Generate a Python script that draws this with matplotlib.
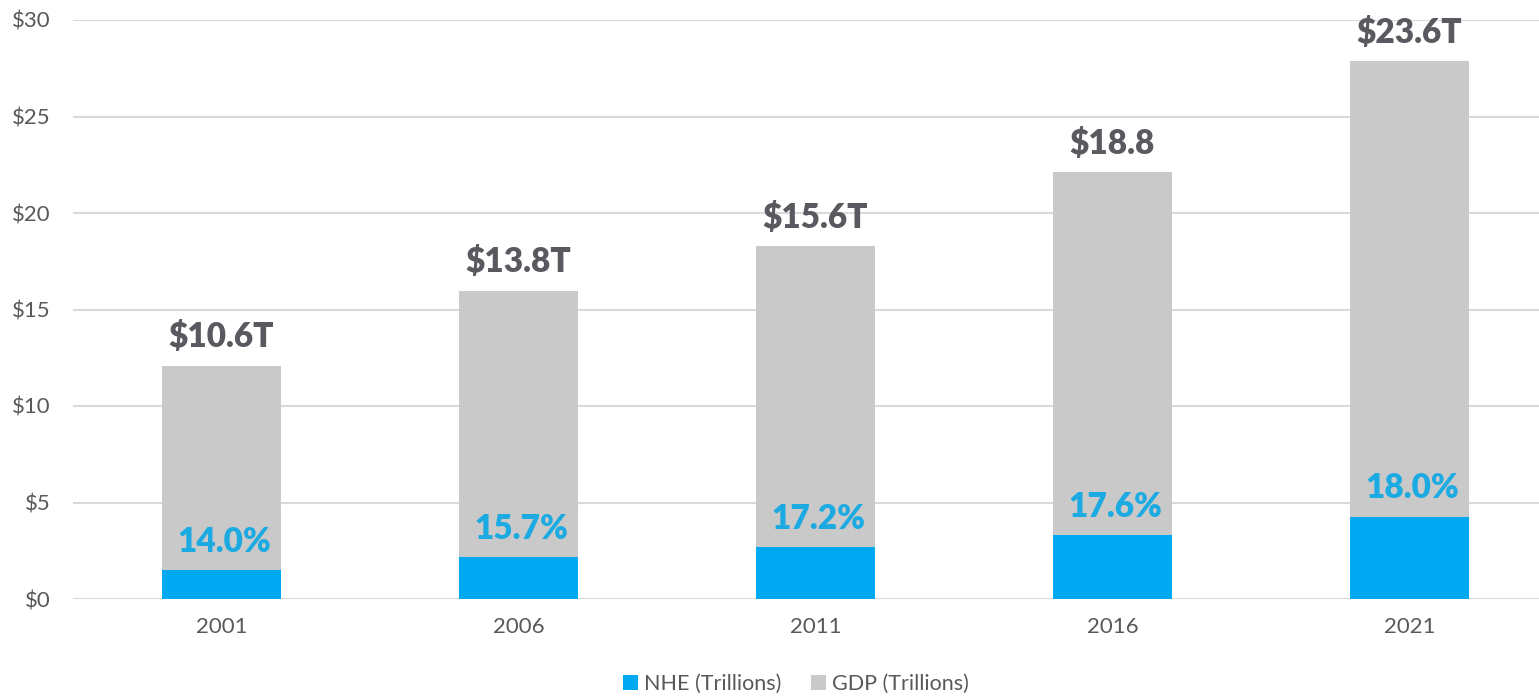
import matplotlib.pyplot as plt
import numpy as np

# data
years = ["2001", "2006", "2011", "2016", "2021"]
gdp = [10.6, 13.8, 15.6, 18.8, 23.6]
nhe = [1.48, 2.17, 2.68, 3.31, 4.25]
gdp_labels = ["$10.6T", "$13.8T", "$15.6T", "$18.8", "$23.6T"]
pct_labels = ["14.0%", "15.7%", "17.2%", "17.6%", "18.0%"]
yticks = [0, 5, 10, 15, 20, 25, 30]

plt.rcParams['font.family'] = ['Lato', 'DejaVu Sans']

fig = plt.figure(figsize=(15.39, 6.96), dpi=100)
ax = fig.add_axes([73 / 1539, 97 / 696, 1466 / 1539, 579 / 696])

x = np.arange(len(years))
w = 0.4
ax.bar(x, nhe, w, color="#00A9F1", label="NHE (Trillions)", zorder=3)
ax.bar(x, gdp, w, bottom=nhe, color="#C9C9C9", label="GDP (Trillions)", zorder=3)

# labels on top of the stacks and above the NHE part
for i in range(len(years)):
    top = nhe[i] + gdp[i]
    ax.annotate(gdp_labels[i], (x[i], top), xytext=(0, 9), textcoords="offset points",
                ha="center", va="bottom", fontsize=24, fontweight="heavy", color="#595A5F")
    ax.annotate(pct_labels[i], (x[i], nhe[i]), xytext=(2, 9), textcoords="offset points",
                ha="center", va="bottom", fontsize=24, fontweight="heavy", color="#1BAAE2")

ax.set_xlim(-0.5, 4.436)
ax.set_ylim(0, 30)
ax.set_yticks(yticks)
ax.set_yticklabels(["$" + str(t) for t in yticks])
ax.set_xticks(x)
ax.set_xticklabels(years)
ax.tick_params(axis="both", length=0, labelsize=16, colors="#595959")
ax.tick_params(axis="x", pad=13)
ax.tick_params(axis="y", pad=16)

ax.grid(axis="y", color="#D9D9D9", linewidth=1.5, zorder=0)
for s in ax.spines.values():
    s.set_visible(False)

fig.legend(loc="center", bbox_to_anchor=(796 / 1539, 12 / 696), ncol=2, frameon=False,
           fontsize=15.5, labelcolor="#595959", handlelength=0.7, handleheight=0.7,
           handletextpad=0.25, columnspacing=1.4)

fig.savefig("out.png", dpi=100)
